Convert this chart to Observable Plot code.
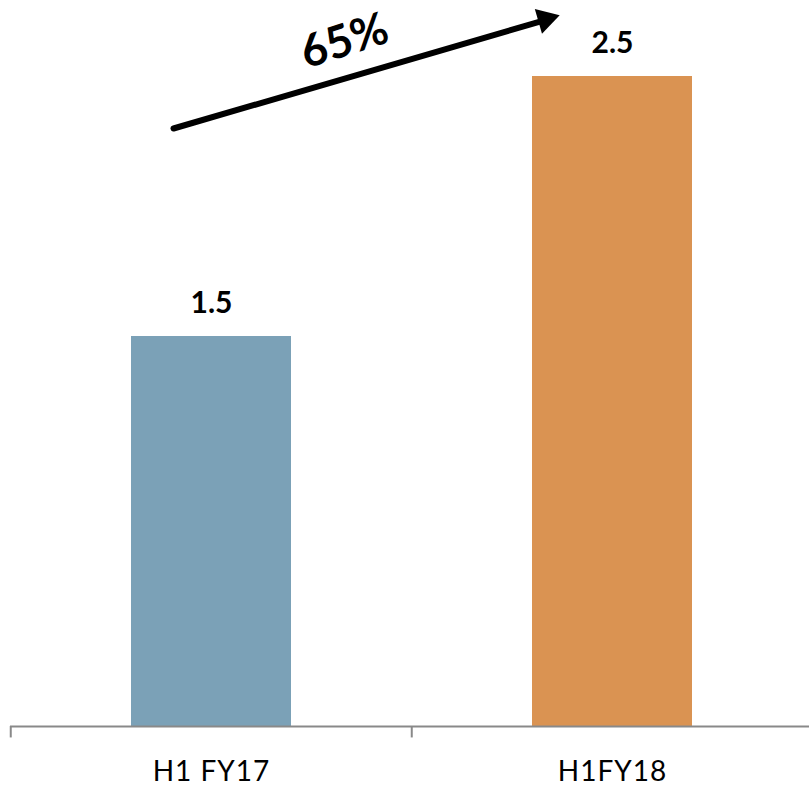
<!DOCTYPE html>
<html>
<head>
<meta charset="utf-8">
<script src="https://cdn.jsdelivr.net/npm/d3@7"></script>
<script src="https://cdn.jsdelivr.net/npm/@observablehq/plot@0.6"></script>
<style>
  html, body { margin: 0; padding: 0; background: #fff; overflow: hidden; }
  #chart svg { display: block; }
</style>
</head>
<body>
<div id="chart"></div>
<script>
// ---- data ----
const categories = ["H1 FY17", "H1FY18"];
const values = [1.5, 2.5];
const barColors = ["#7BA1B7", "#DA9352"];
const growthLabel = "65%";
// growth arrow, expressed in value units (start near bar 1, ends near bar 2)
const arrowStartValue = 2.30;
const arrowEndValue = 2.75;
const arrowHeadValue = 2.72;
const growthLabelValue = 2.635;

const data = categories.map((c, i) => ({cat: c, value: values[i], color: barColors[i]}));

// ---- layout ----
const W = 809, H = 791;
const mL = 10, mR = -4, mT = 11, mB = 65;
const pInner = 0.6, pOuter = 0.3;
const step = (W - mL - mR) / (categories.length - pInner + 2 * pOuter);
const font = "Lato, 'Open Sans', sans-serif";
const axisColor = "#898989";

const plot = Plot.plot({
  width: W,
  height: H,
  marginLeft: mL,
  marginRight: mR,
  marginTop: mT,
  marginBottom: mB,
  style: {fontFamily: font, background: "#fff"},
  x: {type: "band", domain: categories, paddingInner: pInner, paddingOuter: pOuter, axis: null},
  y: {domain: [0, 2.75], axis: null},
  marks: [
    Plot.barY(data, {x: "cat", y: "value", fill: "color"}),
    Plot.ruleY([0], {stroke: axisColor, strokeWidth: 2}),
    // category boundary tick marks
    Plot.ruleX(categories, {x: d => d, y1: 0, y2: -0.044, dx: -step / 2, stroke: axisColor, strokeWidth: 2}),
    Plot.ruleX(categories.slice(-1), {x: d => d, y1: 0, y2: -0.044, dx: step / 2, stroke: axisColor, strokeWidth: 2}),
    // category labels
    Plot.text(categories, {x: d => d, y: 0, dy: 46, text: d => d, fontSize: 28, fill: "#000", lineAnchor: "middle"}),
    // value labels
    Plot.text(data, {x: "cat", y: "value", dy: -33, text: d => d.value.toFixed(1), fontSize: 30, fontWeight: "bold", fill: "#000", lineAnchor: "middle"}),
    // growth arrow shaft
    Plot.arrow([{a: categories[0], b: categories[1]}], {
      x1: "a", x2: "b", y1: () => arrowStartValue, y2: () => arrowEndValue,
      dx: -38, insetEnd: 36, headLength: 0, stroke: "#000", strokeWidth: 6
    }),
    // arrow head
    Plot.dot([{b: categories[1]}], {
      x: "b", y: () => arrowHeadValue, dx: -67, symbol: "triangle", r: 9.5,
      rotate: 73.7, fill: "#000", stroke: "none"
    }),
    // growth label
    Plot.text([growthLabel], {
      x: () => categories[0], y: () => growthLabelValue, dx: 133, text: d => d,
      rotate: -18, fontSize: 45, fontWeight: "bold", fill: "#000", lineAnchor: "middle"
    })
  ]
});
document.getElementById("chart").appendChild(plot);
// slightly widen category labels to match the reference's letter spacing
d3.select(plot).selectAll("text")
  .filter(function() { return categories.includes(this.textContent); })
  .style("letter-spacing", "1px");
</script>
</body>
</html>
